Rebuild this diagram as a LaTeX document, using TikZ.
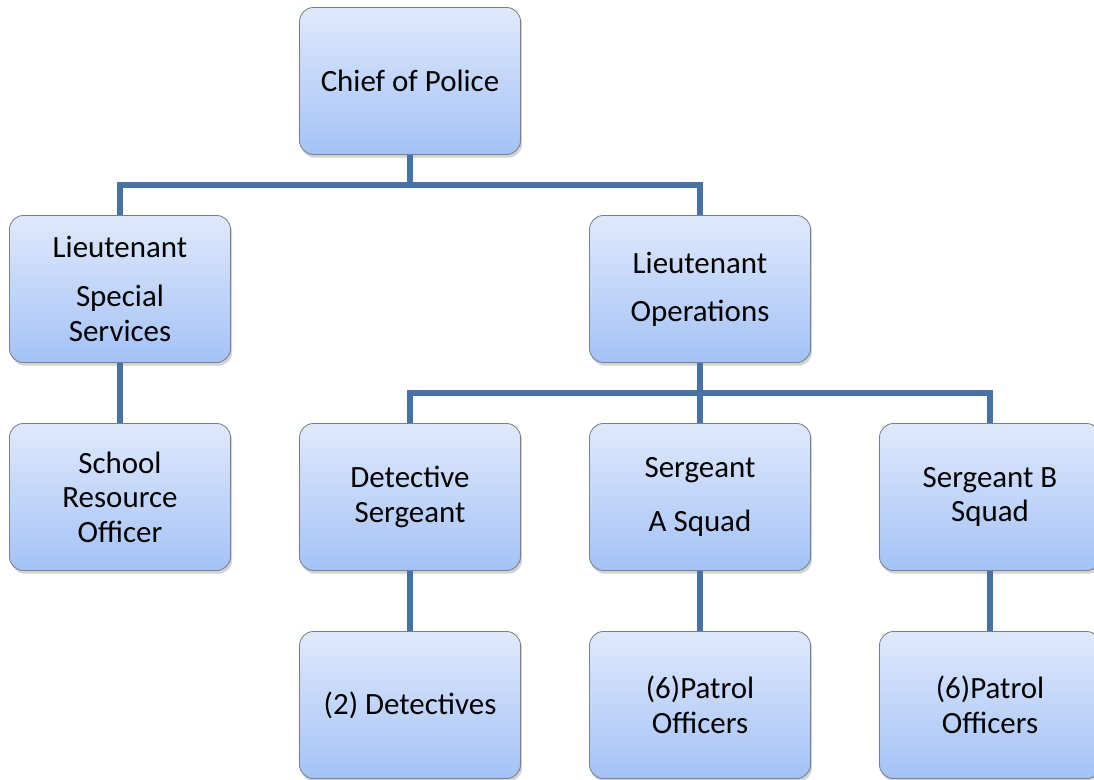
\documentclass[tikz,border=0pt]{standalone}
\usepackage{fontspec}
\setmainfont{Carlito}
\usepackage{xcolor}
\usepackage{tikz}
\usetikzlibrary{shadows}
\usetikzlibrary{calc}

\definecolor{linkblue}{RGB}{70,114,168}
\definecolor{boxtop}{RGB}{223,233,252}
\definecolor{boxbot}{RGB}{164,194,246}
\definecolor{boxline}{RGB}{120,128,140}

\begin{document}
\begin{tikzpicture}[x=0.025cm,y=-0.025cm,
        post/.style={draw=boxline,line width=0.6pt,rounded corners=0.35cm,
          top color=boxtop,bottom color=boxbot,
          minimum width=5.525cm,minimum height=3.675cm,
          align=center,inner sep=0pt,
          font=\fontsize{22}{24.5}\selectfont,
          drop shadow={opacity=0.35,shadow xshift=0.04cm,shadow yshift=-0.08cm}},
        link/.style={draw=linkblue,line width=3.6pt}]
        \useasboundingbox (0,0) rectangle (1094,779);

        % top
        \node[post] (A) at (410,81) {Chief of Police};

        % lieutenants
        \node[post] (AB) at (120,289) {Lieutenant\\[0.36cm]Special\\Services};
        \node[post] (AC) at (700,289) {Lieutenant\\[0.34cm]Operations};

        % third row
        \node[post] (ABA) at (120,497) {School\\Resource\\Officer};
        \node[post] (ACA) at (410,497) {Detective\\Sergeant};
        \node[post] (ACB) at (700,497) {Sergeant\\[0.51cm]A Squad};
        \node[post] (ACC) at (990,497) {Sergeant B\\Squad};

        % bottom row
        \node[post] (ACAa) at (410,705) {(2) Detectives};
        \node[post] (ACBa) at (700,705) {(6)Patrol\\Officers};
        \node[post] (ACCa) at (990,705) {(6)Patrol\\Officers};

        \coordinate (Aj) at (410,185);
        \coordinate (ACj) at (700,393);

        \draw[link] (A.south)--(Aj);
        \draw[link] (AB.north) |- (Aj) -| (AC.north);
        \draw[link] (AB.south)--(ABA.north);
        \draw[link] (AC.south)--(ACj);
        \draw[link] (ACA.north) |- (ACj) -| (ACC.north);
        \draw[link] (ACj)--(ACB.north);
        \draw[link] (ACA.south)--(ACAa.north);
        \draw[link] (ACB.south)--(ACBa.north);
        \draw[link] (ACC.south)--(ACCa.north);
\end{tikzpicture}
\end{document}
